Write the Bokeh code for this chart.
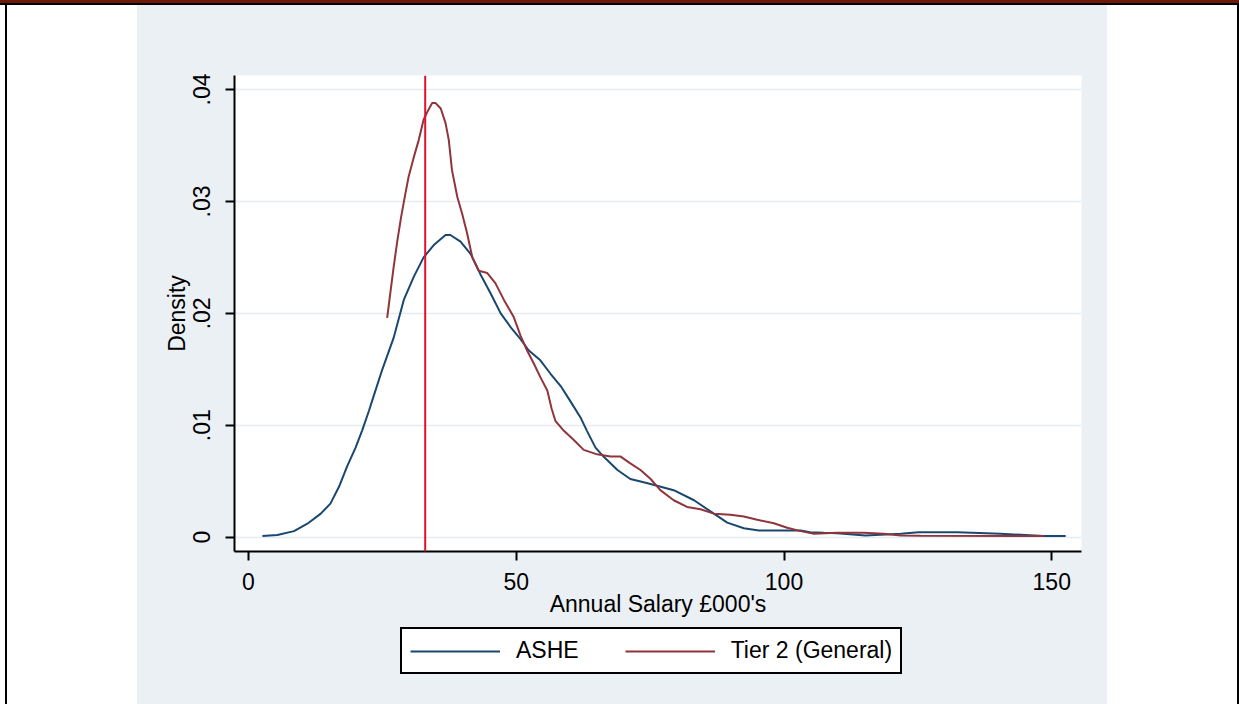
from bokeh.plotting import figure
from bokeh.models import Range1d, Span, Legend, LegendItem, Div, FixedTicker, CustomJSTickFormatter
from bokeh.layouts import row, column
from bokeh.embed import file_html
from bokeh.resources import INLINE

# ---- data ----
ashe_x = [2.6, 5.4, 8.5, 11.0, 13.5, 15.3, 16.9, 18.4, 20.0, 21.2, 22.5, 23.1, 25.0, 27.1,
          29.0, 30.9, 32.7, 34.6, 36.8, 37.7, 39.6, 41.5, 43.3, 45.2, 47.1, 48.9, 50.8,
          52.3, 54.5, 56.4, 58.3, 60.3, 62.0, 63.2, 64.8, 66.3, 68.9, 71.3, 73.8, 76.3,
          79.4, 83.2, 86.9, 89.4, 92.5, 95.3, 99.3, 103.1, 104.9, 107.4, 109.9, 115.2,
          121.8, 125.1, 132.4, 140.4, 148.5, 152.6]
ashe_y = [0.0001, 0.0002, 0.00054, 0.0012, 0.0021, 0.0030, 0.0045, 0.0063, 0.0080, 0.0095,
          0.0113, 0.0122, 0.0150, 0.0178, 0.0212, 0.0233, 0.0250, 0.0261, 0.0270, 0.0270,
          0.0264, 0.0253, 0.0235, 0.0218, 0.0200, 0.0188, 0.0177, 0.0167, 0.0158, 0.0146,
          0.0135, 0.0120, 0.0107, 0.0095, 0.0080, 0.0072, 0.0060, 0.0052, 0.0049, 0.0046,
          0.0042, 0.0033, 0.0021, 0.0013, 0.0008, 0.0006, 0.0006, 0.0006, 0.00045, 0.0004,
          0.00036, 0.00015, 0.0003, 0.00045, 0.00045, 0.0003, 0.0001, 0.0001]

tier2_x = [25.9, 26.4, 27.1, 27.8, 28.5, 29.3, 29.9, 30.9, 31.8, 32.7, 33.4, 34.3, 34.9,
           35.9, 36.8, 37.4, 38.0, 39.0, 39.9, 40.8, 41.8, 43.0, 44.6, 46.1, 47.7, 49.5,
           50.8, 52.0, 53.3, 54.5, 55.8, 56.6, 57.3, 58.9, 60.7, 62.6, 65.1, 67.6, 69.5,
           71.3, 73.2, 75.1, 76.9, 79.4, 81.9, 84.4, 86.9, 90.0, 92.5, 95.0, 98.1, 100.6,
           103.1, 105.6, 109.9, 114.9, 118.6, 121.8, 125.5, 148.5]
tier2_y = [0.0196, 0.0215, 0.0241, 0.0265, 0.0286, 0.0307, 0.0322, 0.0340, 0.0355, 0.0373,
           0.0380, 0.0388, 0.0388, 0.0383, 0.0370, 0.0355, 0.0328, 0.0304, 0.0289, 0.0272,
           0.0250, 0.0238, 0.0236, 0.0227, 0.0212, 0.0197, 0.0180, 0.0167, 0.0155, 0.0143,
           0.0131, 0.0115, 0.0104, 0.0095, 0.0087, 0.0078, 0.0074, 0.0072, 0.0072, 0.0066,
           0.0060, 0.0052, 0.0042, 0.0033, 0.0027, 0.0025, 0.0021, 0.0020, 0.00185, 0.00155,
           0.00125, 0.00084, 0.00054, 0.0003, 0.0004, 0.0004, 0.0003, 0.00015, 0.00012, 0.0001]

cutoff = 33.0
x_ticks = [0, 50, 100, 150]
y_ticks = [0, 0.01, 0.02, 0.03, 0.04]
series_labels = ["ASHE", "Tier 2 (General)"]
series_colors = ["#1A476F", "#90353B"]
x_title = "Annual Salary £000's"
y_title = "Density"

FONT = "Liberation Sans"
FS = "23px"
PANEL = "#EBF0F5"

# ---- main plot ----
p = figure(width=970, height=615, output_backend="svg", toolbar_location=None,
           x_range=Range1d(-2.61, 155.55), y_range=Range1d(-0.00128, 0.04125),
           min_border_left=97, min_border_right=26, min_border_top=70, min_border_bottom=69)
p.background_fill_color = "white"
p.border_fill_color = PANEL
p.outline_line_color = None

p.xgrid.visible = False
p.ygrid.grid_line_color = "#E4EBF2"
p.ygrid.grid_line_width = 1.5

for ax in (p.xaxis[0], p.yaxis[0]):
    ax.axis_line_color = "black"
    ax.axis_line_width = 2
    ax.major_tick_line_color = "black"
    ax.major_tick_line_width = 2
    ax.major_tick_out = 9
    ax.major_tick_in = 0
    ax.minor_tick_line_color = None
    ax.major_label_text_font = FONT
    ax.major_label_text_font_size = FS
    ax.major_label_text_color = "black"
    ax.axis_label_text_font = FONT
    ax.axis_label_text_font_size = FS
    ax.axis_label_text_font_style = "normal"
    ax.axis_label_text_color = "black"

p.xaxis.ticker = FixedTicker(ticks=x_ticks)
p.yaxis.ticker = FixedTicker(ticks=y_ticks)
p.yaxis.formatter = CustomJSTickFormatter(code="""
    if (Math.abs(tick) < 1e-12) { return "0"; }
    return tick.toFixed(2).replace(/^0/, "");
""")
p.yaxis.major_label_orientation = "vertical"
p.xaxis.major_label_standoff = 12
p.yaxis.major_label_standoff = 15
p.xaxis.axis_label = x_title
p.yaxis.axis_label = y_title
p.xaxis.axis_label_standoff = -2
p.yaxis.axis_label_standoff = 1

r1 = p.line(ashe_x, ashe_y, line_color=series_colors[0], line_width=2)
r2 = p.line(tier2_x, tier2_y, line_color=series_colors[1], line_width=2)

p.add_layout(Span(location=cutoff, dimension="height", line_color="#E0102E", line_width=2))

# ---- legend strip (separate small figure placed under the plot) ----
lf = figure(width=970, height=84, output_backend="svg", toolbar_location=None,
            x_range=Range1d(0, 1), y_range=Range1d(0, 1),
            x_axis_type=None, y_axis_type=None,
            min_border=0, min_border_left=0, min_border_right=0,
            min_border_top=0, min_border_bottom=0,
            styles={"background-color": PANEL})
lf.background_fill_color = None
lf.border_fill_color = None
lf.outline_line_color = None
nan = float("nan")
k1 = lf.line(x=[nan], y=[nan], line_color=series_colors[0], line_width=2)
k2 = lf.line(x=[nan], y=[nan], line_color=series_colors[1], line_width=2)

legend = Legend(items=[LegendItem(label=series_labels[0], renderers=[k1]),
                       LegendItem(label=series_labels[1], renderers=[k2])],
                orientation="horizontal", location=(166, 30),
                label_text_font=FONT, label_text_font_size=FS, label_text_color="black",
                border_line_color="black", border_line_width=2, border_line_alpha=1.0,
                background_fill_color="white", background_fill_alpha=1.0,
                glyph_width=90, glyph_height=20, label_standoff=16, spacing=46,
                padding=8, margin=0)
lf.add_layout(legend, "center")

# ---- page frame around the graph ----
top_bar = Div(width=1239, height=5, margin=0, styles={
    "background": "linear-gradient(to bottom, #6F1A08 0px, #6F1A08 3px, #000 3px, #000 5px)"})
left_pad = Div(width=137, height=699, margin=0, styles={
    "background": "linear-gradient(to right, #fff 0px, #fff 5px, #000 5px, #000 7px, #fff 7px, #fff 137px)"})
right_pad = Div(width=132, height=699, margin=0, styles={
    "background": "linear-gradient(to right, #fff 0px, #fff 130px, #000 130px, #000 132px)"})

middle = column(p, lf, spacing=0, styles={"background-color": PANEL})
layout = column(top_bar, row(left_pad, middle, right_pad, spacing=0), spacing=0)

html = file_html(layout, INLINE)
html = html.replace("<head>", "<head><style>html, body { margin: 0; padding: 0; }</style>", 1)
open("out.html", "w").write(html)
